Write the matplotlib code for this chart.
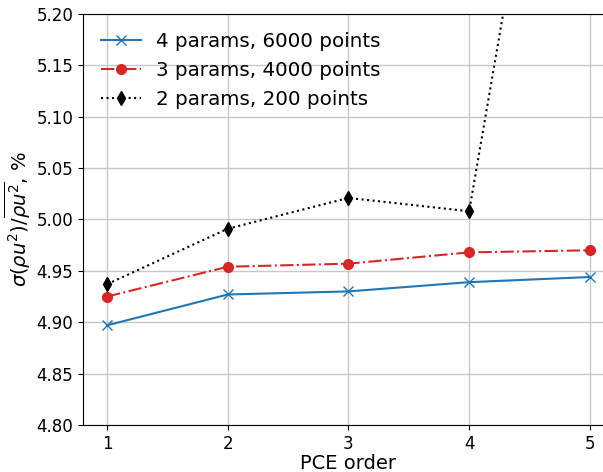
import matplotlib
matplotlib.use("Agg")
import matplotlib.pyplot as plt
import numpy as np

orders = [1, 2, 3, 4, 5]
p4_6000 = [4.897, 4.927, 4.930, 4.939, 4.944]
p3_4000 = [4.925, 4.954, 4.957, 4.968, 4.970]
p2_200 = [4.937, 4.991, 5.021, 5.008, 5.69]

fig = plt.figure(figsize=(6.03, 4.72), dpi=100)
ax = fig.add_axes([0.1376, 0.0996, 0.8806, 0.8708])

ax.plot(orders, p4_6000, "-", marker="x", color="#1f77b4", markersize=6.5,
        linewidth=1.5, label="4 params, 6000 points")
ax.plot(orders, p3_4000, "-.", marker="o", color="#d62728", markersize=7,
        linewidth=1.5, label="3 params, 4000 points")
ax.plot(orders, p2_200, ":", marker="d", color="black", markersize=7.5,
        linewidth=1.5, label="2 params, 200 points")

ax.set_xlim(0.8, 5.2)
ax.set_ylim(4.80, 5.20)
ax.set_xticks(orders)
ax.set_yticks(np.arange(4.80, 5.201, 0.05))
ax.yaxis.set_major_formatter(matplotlib.ticker.FormatStrFormatter("%.2f"))
ax.tick_params(labelsize=12)
ax.grid(True, color="#c8c8c8", linewidth=1)
ax.set_axisbelow(True)

ax.set_xlabel("PCE order", fontsize=14, labelpad=1)
ax.set_ylabel(r"$\sigma(\rho u^2)/\overline{\rho u^2}$, %", fontsize=14, labelpad=2)
ax.legend(loc="upper left", frameon=False, fontsize=14.3, handlelength=2.0)

fig.savefig("out.png", dpi=100)
